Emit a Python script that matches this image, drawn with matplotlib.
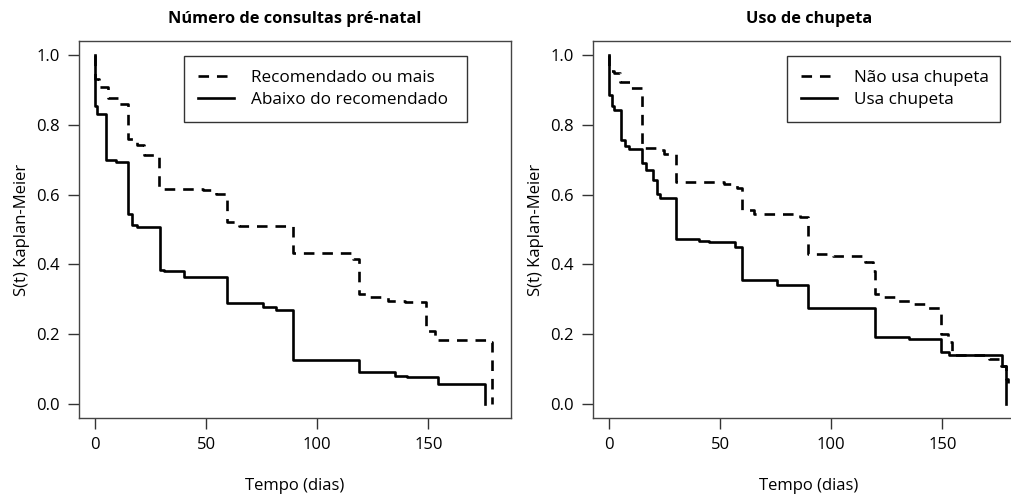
import matplotlib
matplotlib.use("Agg")
import matplotlib.pyplot as plt

plt.rcParams['font.family'] = ['Open Sans', 'DejaVu Sans']

# Número de consultas pré-natal
rec_t = [0, 0, 2, 6, 11, 15, 19, 22, 29, 48.5, 54.5, 59.3, 65, 89, 116, 119, 123, 132, 139.5, 149, 153, 177, 178.7]
rec_s = [1.0, 0.932, 0.908, 0.876, 0.86, 0.76, 0.741, 0.714, 0.617, 0.614, 0.602, 0.521, 0.511, 0.433, 0.416, 0.316, 0.306, 0.296, 0.291, 0.21, 0.184, 0.177, 0.0]
aba_t = [0, 0, 0.7, 4.8, 9.3, 14.9, 16.7, 19, 29.4, 31, 40, 59.3, 75.4, 81.4, 89.2, 119, 135, 140.3, 154.2, 175.4]
aba_s = [1.0, 0.853, 0.83, 0.70, 0.693, 0.545, 0.514, 0.508, 0.384, 0.38, 0.365, 0.289, 0.277, 0.27, 0.127, 0.091, 0.081, 0.076, 0.057, 0.0]

# Uso de chupeta
nao_t = [0, 0, 2.4, 5.1, 9.6, 14.8, 21, 24.8, 30, 51.6, 57.6, 59.9, 65.1, 86, 89.7, 100.9, 115.1, 118.8, 119.6, 123, 129.3, 136.7, 142.7, 149.4, 152.4, 154.5, 171, 176.3, 178.6, 179.6]
nao_s = [1.0, 0.954, 0.947, 0.922, 0.904, 0.734, 0.727, 0.715, 0.636, 0.629, 0.62, 0.557, 0.545, 0.535, 0.43, 0.425, 0.406, 0.382, 0.316, 0.306, 0.294, 0.287, 0.275, 0.2, 0.177, 0.139, 0.129, 0.11, 0.072, 0.06]
usa_t = [0, 0, 1.2, 2.4, 5.4, 7.3, 9.1, 14.8, 16.6, 19.6, 21.5, 23, 30, 40.4, 44.9, 56.9, 59.9, 65.8, 75.8, 89.7, 119.6, 135.2, 149.4, 153.2, 176.9, 178.6]
usa_s = [1.0, 0.884, 0.853, 0.841, 0.757, 0.738, 0.731, 0.69, 0.669, 0.641, 0.602, 0.591, 0.473, 0.468, 0.463, 0.451, 0.356, 0.354, 0.342, 0.275, 0.193, 0.186, 0.148, 0.139, 0.11, 0.0]

titles = ['Número de consultas pré-natal', 'Uso de chupeta']
labels = [['Recomendado ou mais', 'Abaixo do recomendado'],
          ['Não usa chupeta', 'Usa chupeta']]
xticks = [0, 50, 100, 150]
yticks = [0.0, 0.2, 0.4, 0.6, 0.8, 1.0]

fig = plt.figure(figsize=(10.12, 4.97), dpi=100)
ax1 = fig.add_axes([0.0781, 0.159, 0.4269, 0.7586])
ax2 = fig.add_axes([0.586, 0.159, 0.4269, 0.7586])

curves = [[(rec_t, rec_s), (aba_t, aba_s)], [(nao_t, nao_s), (usa_t, usa_s)]]
legend_boxes = [(0.243, 0.79, 0.655, 0.17), (0.449, 0.79, 0.493, 0.17)]

for ax, title, (dash, solid), lab, lbox in zip([ax1, ax2], titles, curves, labels, legend_boxes):
    l1, = ax.step(dash[0], dash[1], where='post', color='black', lw=1.9,
                  linestyle=(0, (4, 3)))
    l2, = ax.step(solid[0], solid[1], where='post', color='black', lw=1.9)
    ax.set_xlim(-7.2, 187.2)
    ax.set_ylim(-0.04, 1.04)
    ax.set_xticks(xticks)
    ax.set_yticks(yticks)
    ax.set_yticklabels(['%.1f' % v for v in yticks])
    ax.tick_params(direction='out', length=8, width=1, color='#333333',
                   labelsize=12, pad=6)
    for sp in ax.spines.values():
        sp.set_color('#444444')
        sp.set_linewidth(1)
    ax.set_title(title, fontsize=11.8, fontweight='bold', pad=13)
    ax.set_xlabel('Tempo (dias)', fontsize=12, labelpad=18)
    ax.set_ylabel('S(t) Kaplan-Meier', fontsize=12, labelpad=4)
    leg = ax.legend([l1, l2], lab, loc='upper left', bbox_to_anchor=lbox,
                    mode='expand', borderaxespad=0, fontsize=12.3,
                    handlelength=2.1, handletextpad=1.0, labelspacing=0.38,
                    borderpad=0.8, fancybox=False, framealpha=1)
    leg.get_frame().set_edgecolor('#333333')
    leg.get_frame().set_linewidth(1)

fig.savefig('out.png', dpi=100)
